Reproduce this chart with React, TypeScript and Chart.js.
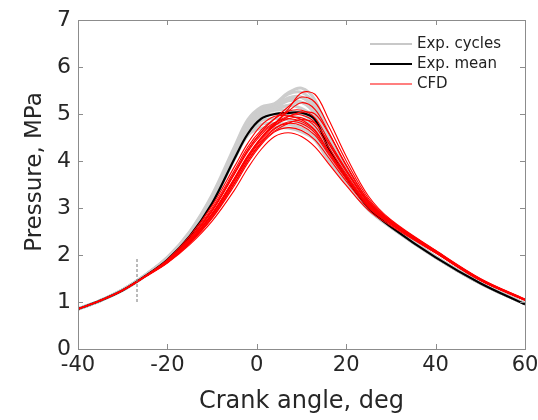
import React, { useEffect, useRef } from "react";
import { Chart, registerables } from "chart.js";

Chart.register(...registerables);

// Crank angle grid (deg)
const crankAngles = [-40, -35, -30, -25, -20, -15, -10, -5, -2, 1, 4, 7, 10, 13, 16, 20, 25, 30, 40, 50, 60];

// Experimental mean pressure (MPa)
const expMean = [0.85, 1.03, 1.25, 1.55, 1.9, 2.4, 3.1, 4.05, 4.58, 4.9, 5.0, 5.02, 5.03, 4.88, 4.28, 3.65, 3.0, 2.6, 1.95, 1.4, 0.95];

// Individual experimental cycles (MPa)
const expCycles = [
  [0.85, 1.03, 1.26, 1.57, 1.95, 2.5, 3.28, 4.3, 4.88, 5.15, 5.22, 5.45, 5.55, 5.3, 4.6, 3.85, 3.08, 2.64, 1.96, 1.4, 0.96],
  [0.85, 1.03, 1.26, 1.57, 1.95, 2.48, 3.25, 4.26, 4.84, 5.12, 5.2, 5.42, 5.46, 5.2, 4.52, 3.8, 3.06, 2.63, 1.96, 1.4, 0.96],
  [0.85, 1.03, 1.26, 1.57, 1.94, 2.47, 3.22, 4.22, 4.8, 5.08, 5.15, 5.34, 5.36, 5.1, 4.45, 3.76, 3.05, 2.63, 1.96, 1.4, 0.96],
  [0.85, 1.03, 1.26, 1.56, 1.94, 2.46, 3.2, 4.2, 4.77, 5.04, 5.12, 5.28, 5.25, 5.0, 4.38, 3.73, 3.04, 2.62, 1.96, 1.4, 0.96],
  [0.85, 1.03, 1.26, 1.56, 1.93, 2.45, 3.18, 4.16, 4.74, 5.0, 5.1, 5.18, 5.12, 4.9, 4.3, 3.7, 3.03, 2.62, 1.96, 1.4, 0.96],
  [0.85, 1.03, 1.26, 1.56, 1.93, 2.44, 3.16, 4.14, 4.7, 4.98, 5.08, 5.08, 5.0, 4.8, 4.25, 3.67, 3.02, 2.61, 1.95, 1.4, 0.96],
  [0.85, 1.03, 1.26, 1.56, 1.92, 2.43, 3.14, 4.1, 4.66, 4.94, 5.0, 4.98, 4.9, 4.7, 4.18, 3.63, 3.0, 2.6, 1.95, 1.4, 0.96],
  [0.85, 1.03, 1.25, 1.56, 1.92, 2.42, 3.12, 4.08, 4.62, 4.86, 4.9, 4.88, 4.8, 4.62, 4.12, 3.6, 2.99, 2.6, 1.95, 1.4, 0.96],
  [0.85, 1.03, 1.25, 1.56, 1.92, 2.42, 3.12, 4.06, 4.58, 4.78, 4.8, 4.78, 4.7, 4.52, 4.06, 3.56, 2.98, 2.59, 1.95, 1.4, 0.96],
  [0.85, 1.03, 1.25, 1.55, 1.91, 2.41, 3.1, 4.04, 4.55, 4.7, 4.72, 4.7, 4.62, 4.45, 4.02, 3.53, 2.96, 2.59, 1.95, 1.4, 0.96],
  [0.85, 1.03, 1.26, 1.56, 1.93, 2.45, 3.18, 4.16, 4.74, 5.02, 5.1, 5.18, 5.25, 5.05, 4.45, 3.75, 3.04, 2.62, 1.96, 1.4, 0.96],
  [0.85, 1.03, 1.26, 1.57, 1.94, 2.47, 3.22, 4.22, 4.8, 5.08, 5.16, 5.3, 5.35, 5.12, 4.5, 3.78, 3.05, 2.63, 1.96, 1.4, 0.96],
];

// CFD cycles (MPa)
const cfdCycles = [
  [0.85, 1.03, 1.25, 1.54, 1.86, 2.3, 2.88, 3.62, 4.1, 4.5, 4.8, 5.1, 5.45, 5.42, 4.9, 4.1, 3.25, 2.75, 2.1, 1.5, 1.06],
  [0.85, 1.03, 1.25, 1.54, 1.87, 2.33, 2.94, 3.74, 4.24, 4.62, 4.9, 5.15, 5.36, 5.25, 4.75, 4.0, 3.2, 2.73, 2.09, 1.49, 1.06],
  [0.85, 1.03, 1.25, 1.54, 1.85, 2.28, 2.85, 3.6, 4.08, 4.48, 4.78, 5.05, 5.24, 5.1, 4.62, 3.92, 3.16, 2.72, 2.08, 1.49, 1.05],
  [0.85, 1.03, 1.25, 1.55, 1.88, 2.36, 3.0, 3.8, 4.3, 4.66, 4.9, 5.06, 5.08, 4.92, 4.45, 3.82, 3.12, 2.7, 2.08, 1.48, 1.05],
  [0.85, 1.03, 1.25, 1.55, 1.87, 2.33, 2.93, 3.72, 4.2, 4.56, 4.8, 4.95, 4.98, 4.82, 4.38, 3.78, 3.1, 2.69, 2.07, 1.48, 1.05],
  [0.85, 1.03, 1.25, 1.54, 1.86, 2.3, 2.87, 3.62, 4.1, 4.48, 4.75, 4.9, 4.92, 4.74, 4.3, 3.72, 3.08, 2.68, 2.07, 1.47, 1.04],
  [0.85, 1.03, 1.25, 1.55, 1.88, 2.35, 2.96, 3.75, 4.24, 4.6, 4.82, 4.9, 4.84, 4.64, 4.22, 3.68, 3.06, 2.68, 2.06, 1.47, 1.04],
  [0.85, 1.03, 1.25, 1.54, 1.84, 2.26, 2.82, 3.54, 4.02, 4.4, 4.68, 4.83, 4.8, 4.6, 4.18, 3.65, 3.04, 2.67, 2.06, 1.47, 1.04],
  [0.85, 1.03, 1.25, 1.54, 1.85, 2.28, 2.85, 3.58, 4.06, 4.44, 4.7, 4.8, 4.75, 4.55, 4.15, 3.62, 3.03, 2.66, 2.05, 1.46, 1.04],
  [0.85, 1.03, 1.25, 1.54, 1.84, 2.25, 2.78, 3.48, 3.96, 4.35, 4.62, 4.71, 4.65, 4.45, 4.08, 3.57, 3.0, 2.65, 2.05, 1.46, 1.04],
  [0.85, 1.03, 1.25, 1.53, 1.83, 2.22, 2.72, 3.38, 3.85, 4.25, 4.52, 4.6, 4.52, 4.3, 3.95, 3.48, 2.95, 2.62, 2.04, 1.46, 1.04],
  [0.85, 1.03, 1.25, 1.54, 1.85, 2.26, 2.8, 3.52, 4.0, 4.38, 4.64, 4.8, 4.88, 4.8, 4.4, 3.8, 3.12, 2.7, 2.08, 1.48, 1.05],
  [0.85, 1.03, 1.25, 1.54, 1.86, 2.3, 2.88, 3.64, 4.12, 4.5, 4.76, 4.94, 5.04, 5.0, 4.6, 3.9, 3.15, 2.72, 2.09, 1.49, 1.05],
  [0.85, 1.03, 1.25, 1.55, 1.9, 2.4, 3.05, 3.88, 4.38, 4.76, 4.95, 4.96, 4.88, 4.66, 4.22, 3.68, 3.05, 2.67, 2.05, 1.46, 1.03],
];

// Dashed marker line
const markerX = [-26.8, -26.8];
const markerY = [1.0, 1.95];

// Axis ticks
const xTicks = [-40, -20, 0, 20, 40, 60];
const yTicks = [0, 1, 2, 3, 4, 5, 6, 7];

const yTitle = "Pressure, MPa";

const legendItems = [
  { label: "Exp. cycles", color: "#c8c8c8", width: 2 },
  { label: "Exp. mean", color: "#000000", width: 2 },
  { label: "CFD", color: "#ff0000", width: 1.2 },
];

const FONT = "'DejaVu Sans', sans-serif";

const toPts = (ys: number[]) => crankAngles.map((x, i) => ({ x, y: ys[i] }));

const framePlugin = {
  id: "frame",
  afterDraw(chart: any) {
    const { ctx, chartArea: a, scales } = chart;
    ctx.save();
    ctx.strokeStyle = "#8c8c8c";
    ctx.lineWidth = 1;
    ctx.strokeRect(Math.round(a.left) + 0.5, Math.round(a.top) + 0.5, Math.round(a.right - a.left), Math.round(a.bottom - a.top));
    const tl = 5;
    ctx.beginPath();
    xTicks.forEach((v) => {
      const px = Math.round(scales.x.getPixelForValue(v)) + 0.5;
      ctx.moveTo(px, a.bottom);
      ctx.lineTo(px, a.bottom - tl);
      ctx.moveTo(px, a.top);
      ctx.lineTo(px, a.top + tl);
    });
    yTicks.forEach((v) => {
      const py = Math.round(scales.y.getPixelForValue(v)) + 0.5;
      ctx.moveTo(a.left, py);
      ctx.lineTo(a.left + tl, py);
      ctx.moveTo(a.right, py);
      ctx.lineTo(a.right - tl, py);
    });
    ctx.stroke();

    // y-axis title
    ctx.save();
    ctx.translate(35, 172);
    ctx.rotate(-Math.PI / 2);
    ctx.font = `23px ${FONT}`;
    ctx.fillStyle = "#262626";
    ctx.textAlign = "center";
    ctx.textBaseline = "middle";
    ctx.fillText(yTitle, 0, 0);
    ctx.restore();

    // legend
    const x0 = 370, x1 = 412, tx = 417;
    const rows = [44, 64, 84];
    ctx.font = `15px ${FONT}`;
    ctx.textBaseline = "middle";
    ctx.textAlign = "left";
    legendItems.forEach((it, i) => {
      ctx.strokeStyle = it.color;
      ctx.lineWidth = it.width;
      ctx.beginPath();
      ctx.moveTo(x0, rows[i]);
      ctx.lineTo(x1, rows[i]);
      ctx.stroke();
      ctx.fillStyle = "#222222";
      ctx.fillText(it.label, tx, rows[i]);
    });
    ctx.restore();
  },
};

export default function App() {
  const ref = useRef<HTMLCanvasElement>(null);
  useEffect(() => {
    if (!ref.current) return;
    const datasets: any[] = [];
    const common = { pointRadius: 0, tension: 0.35 };
    expCycles.forEach((c) =>
      datasets.push({ ...common, data: toPts(c), borderColor: "#cdcdcd", borderWidth: 3, order: 3 })
    );
    datasets.push({ ...common, data: toPts(expMean), borderColor: "#000000", borderWidth: 2.2, order: 2 });
    cfdCycles.forEach((c) =>
      datasets.push({ ...common, data: toPts(c), borderColor: "#ff0000", borderWidth: 1.1, order: 1 })
    );
    datasets.push({
      data: markerX.map((x, i) => ({ x, y: markerY[i] })),
      borderColor: "#777777",
      borderWidth: 1,
      borderDash: [3, 2],
      pointRadius: 0,
      order: 0,
    });
    const chart = new Chart(ref.current, {
      type: "line",
      data: { datasets },
      options: {
        animation: false,
        responsive: false,
        maintainAspectRatio: false,
        layout: { padding: { left: 0, top: 20, right: 13, bottom: 0 } },
        plugins: { legend: { display: false }, tooltip: { enabled: false } },
        scales: {
          x: {
            type: "linear",
            min: -40,
            max: 60,
            afterBuildTicks: (s: any) => { s.ticks = xTicks.map((v) => ({ value: v })); },
            afterFit: (s: any) => { s.height = 71; s.paddingLeft = 0; s.paddingRight = 0; },
            grid: { display: false, drawTicks: false },
            border: { display: false },
            ticks: { color: "#262626", font: { family: FONT, size: 21 }, padding: 4, maxRotation: 0 },
            title: { display: true, text: "Crank angle, deg", color: "#262626", font: { family: FONT, size: 24 }, padding: { top: 0, bottom: 4 } },
          },
          y: {
            min: 0,
            max: 7,
            afterBuildTicks: (s: any) => { s.ticks = yTicks.map((v) => ({ value: v })); },
            afterFit: (s: any) => { s.width = 78; s.paddingTop = 0; s.paddingBottom = 0; },
            grid: { display: false, drawTicks: false },
            border: { display: false },
            ticks: { color: "#262626", font: { family: FONT, size: 22 }, padding: 7 },
            title: { display: false },
          },
        },
      },
      plugins: [framePlugin],
    });
    return () => chart.destroy();
  }, []);
  return (
    <div style={{ position: "fixed", left: 0, top: 0, width: 538, height: 420, background: "#fff" }}>
      <canvas ref={ref} width={538} height={420} style={{ width: 538, height: 420 }} />
    </div>
  );
}
